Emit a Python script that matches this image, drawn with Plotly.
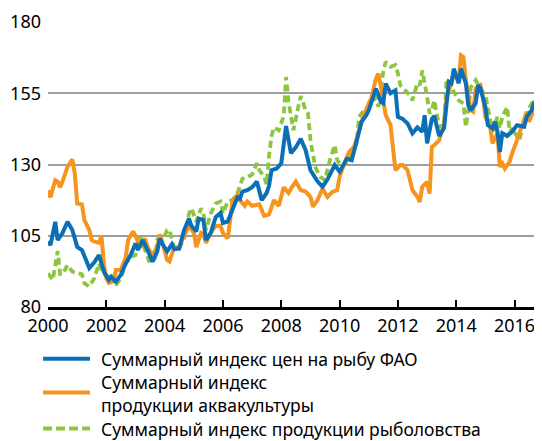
import plotly.graph_objects as go

fao_dates = ["2000-01", "2000-02", "2000-04", "2000-05", "2000-07", "2000-09", "2000-11",
             "2001-01", "2001-03", "2001-04", "2001-06", "2001-08", "2001-10", "2001-12",
             "2002-02", "2002-03", "2002-05", "2002-07", "2002-09", "2002-11",
             "2003-01", "2003-02", "2003-04", "2003-06", "2003-08", "2003-10", "2003-11", "2003-12",
             "2004-02", "2004-04", "2004-05", "2004-07", "2004-09", "2004-11", "2004-12",
             "2005-02", "2005-03", "2005-05", "2005-06", "2005-08", "2005-10", "2005-12",
             "2006-01", "2006-03", "2006-05", "2006-07", "2006-08", "2006-09", "2006-11",
             "2007-01", "2007-03", "2007-05", "2007-07", "2007-08", "2007-09", "2007-11",
             "2008-01", "2008-03", "2008-05", "2008-07", "2008-09", "2008-11",
             "2009-01", "2009-04", "2009-06", "2009-08", "2009-11",
             "2010-01", "2010-04", "2010-06", "2010-08", "2010-10", "2010-12",
             "2011-01", "2011-04", "2011-06", "2011-07", "2011-08", "2011-10", "2011-12",
             "2012-01", "2012-03", "2012-05", "2012-07", "2012-09", "2012-11", "2012-12",
             "2013-01", "2013-03", "2013-04", "2013-06", "2013-08", "2013-10", "2013-11", "2013-12",
             "2014-02", "2014-03", "2014-05", "2014-06", "2014-07", "2014-09", "2014-10", "2014-11",
             "2015-01", "2015-02", "2015-04", "2015-05", "2015-06", "2015-07", "2015-08", "2015-10", "2015-12",
             "2016-02", "2016-05", "2016-06", "2016-08", "2016-09", "2016-12"]
fao_values = [103.0, 101.7, 109.9, 103.5, 106.0, 109.9, 107.0,
              101.1, 100.0, 98.0, 93.7, 95.6, 98.2, 92.4,
              89.5, 90.6, 88.9, 91.3, 95.3, 98.2,
              102.3, 100.0, 103.5, 100.0, 95.9, 99.5, 104.0, 102.3,
              99.5, 102.0, 100.3, 100.5, 107.0, 111.0, 108.5,
              106.5, 111.0, 110.5, 103.5, 106.0, 111.5, 113.0,
              109.5, 110.0, 114.0, 118.5, 118.0, 120.5, 121.0,
              122.0, 124.0, 117.5, 120.0, 122.5, 128.0, 128.5,
              130.4, 143.5, 134.0, 136.0, 139.0, 135.0,
              128.0, 124.0, 122.2, 124.7, 129.8,
              127.5, 132.0, 131.5, 138.0, 145.0, 147.3,
              149.0, 156.6, 152.0, 151.5, 158.4, 155.0, 156.0,
              146.7, 146.0, 144.4, 140.9, 143.0, 141.5, 147.3,
              137.4, 146.0, 147.0, 140.0, 142.8, 159.0, 158.5, 163.6,
              158.5, 163.6, 158.5, 150.8, 149.0, 151.5, 157.8, 156.6,
              150.2, 143.8, 142.7, 145.0, 141.5, 134.4, 141.0, 140.0, 141.5,
              143.8, 143.3, 146.7, 149.0, 151.4, 150.8]

aqua_dates = ["2000-01", "2000-02", "2000-04", "2000-05", "2000-06", "2000-07", "2000-09", "2000-11", "2000-12",
              "2001-01", "2001-03", "2001-04", "2001-06", "2001-07", "2001-08", "2001-10", "2001-11", "2001-12",
              "2002-01", "2002-02", "2002-04", "2002-05", "2002-07", "2002-09", "2002-10", "2002-12",
              "2003-01", "2003-03", "2003-05", "2003-06", "2003-08", "2003-10", "2003-11", "2003-12",
              "2004-02", "2004-03", "2004-05", "2004-07", "2004-09", "2004-11",
              "2005-01", "2005-02", "2005-04", "2005-05", "2005-06", "2005-08", "2005-10", "2005-12",
              "2006-01", "2006-03", "2006-04", "2006-05", "2006-07", "2006-08", "2006-10", "2006-11",
              "2007-01", "2007-04", "2007-06", "2007-08", "2007-10", "2007-12",
              "2008-02", "2008-04", "2008-05", "2008-07", "2008-09", "2008-11",
              "2009-01", "2009-02", "2009-04", "2009-06", "2009-08", "2009-10", "2009-12",
              "2010-01", "2010-03", "2010-05", "2010-07", "2010-09", "2010-11",
              "2011-01", "2011-02", "2011-04", "2011-05", "2011-06", "2011-07", "2011-08", "2011-10", "2011-11", "2011-12",
              "2012-02", "2012-03", "2012-05", "2012-06", "2012-07", "2012-09", "2012-10", "2012-11",
              "2013-01", "2013-02", "2013-03", "2013-04", "2013-06", "2013-08", "2013-09", "2013-11", "2013-12",
              "2014-02", "2014-03", "2014-04", "2014-05", "2014-07", "2014-08", "2014-09", "2014-11", "2014-12",
              "2015-01", "2015-03", "2015-04", "2015-06", "2015-07", "2015-08", "2015-09", "2015-11", "2015-12",
              "2016-02", "2016-04", "2016-06", "2016-07", "2016-09", "2016-10", "2016-12"]
aqua_values = [121.0, 118.5, 124.5, 124.0, 122.0, 124.0, 129.2, 131.8, 127.0,
               116.3, 116.0, 110.5, 107.0, 103.5, 103.0, 102.5, 105.0, 94.7,
               90.0, 88.5, 89.0, 93.0, 93.0, 97.5, 103.5, 106.5,
               105.0, 101.0, 104.0, 101.0, 98.2, 101.0, 105.5, 103.0,
               96.5, 96.0, 101.0, 101.0, 105.0, 108.5,
               106.0, 101.0, 106.0, 105.5, 102.5, 106.0, 108.5, 108.5,
               106.0, 104.0, 110.5, 117.5, 119.3, 117.5, 115.5, 117.0,
               115.5, 116.0, 112.0, 112.5, 117.5, 115.5,
               122.0, 120.0, 121.5, 124.0, 121.0, 120.5,
               118.6, 115.2, 117.6, 121.6, 118.6, 120.4, 121.0,
               125.7, 130.4, 134.4, 136.2, 142.0, 147.3,
               151.4, 153.2, 160.1, 161.9, 157.5, 152.5, 147.3, 143.8, 136.2, 128.0,
               129.8, 129.8, 128.0, 123.9, 121.0, 118.7, 116.9, 122.2,
               123.9, 119.8, 136.2, 136.8, 138.5, 144.3, 153.7, 158.5, 161.3,
               159.6, 168.3, 167.7, 159.6, 149.0, 148.5, 156.6, 157.8, 153.7,
               146.7, 143.2, 137.4, 141.0, 129.2, 130.4, 128.6, 131.0, 133.9,
               138.5, 143.2, 148.5, 145.0, 149.0, 151.4, 152.5]

capture_dates = ["2000-01", "2000-03", "2000-05", "2000-06", "2000-07", "2000-09", "2000-11",
                 "2001-01", "2001-03", "2001-04", "2001-06", "2001-08", "2001-10", "2001-11",
                 "2002-01", "2002-03", "2002-05", "2002-07", "2002-09", "2002-11",
                 "2003-01", "2003-03", "2003-05", "2003-07", "2003-09", "2003-10", "2003-12",
                 "2004-02", "2004-03", "2004-05", "2004-07", "2004-09", "2004-11", "2004-12",
                 "2005-02", "2005-04", "2005-05", "2005-06", "2005-08", "2005-10", "2005-12",
                 "2006-01", "2006-03", "2006-05", "2006-07", "2006-09", "2006-11",
                 "2007-01", "2007-03", "2007-04", "2007-06", "2007-07", "2007-08", "2007-09", "2007-10", "2007-12",
                 "2008-02", "2008-03", "2008-04", "2008-06", "2008-08", "2008-09", "2008-11", "2008-12",
                 "2009-01", "2009-03", "2009-05", "2009-07", "2009-09", "2009-11", "2009-12",
                 "2010-02", "2010-05", "2010-06", "2010-08", "2010-09", "2010-11",
                 "2011-01", "2011-04", "2011-05", "2011-07", "2011-08", "2011-10", "2011-12",
                 "2012-01", "2012-02", "2012-04", "2012-06", "2012-07", "2012-09", "2012-10", "2012-11",
                 "2013-01", "2013-02", "2013-03", "2013-04", "2013-06", "2013-08", "2013-09", "2013-11",
                 "2014-01", "2014-02", "2014-04", "2014-05", "2014-06", "2014-07", "2014-09", "2014-11",
                 "2015-01", "2015-03", "2015-04", "2015-06", "2015-07", "2015-08", "2015-10", "2015-11", "2015-12",
                 "2016-03", "2016-05", "2016-07", "2016-09", "2016-10", "2016-12"]
capture_values = [91.8, 89.5, 99.6, 91.5, 91.5, 94.7, 92.4,
                  91.8, 91.5, 88.3, 87.2, 90.0, 95.3, 93.0,
                  90.7, 91.8, 87.7, 90.0, 95.3, 97.6,
                  98.2, 104.6, 100.0, 95.3, 97.0, 103.5, 103.0,
                  107.0, 107.0, 100.5, 100.5, 104.0, 112.8, 114.6,
                  109.9, 114.6, 112.8, 107.0, 112.8, 116.3, 117.0,
                  112.8, 117.0, 117.6, 119.9, 125.0, 125.5,
                  126.5, 130.4, 128.0, 125.7, 123.0, 133.0, 140.0, 143.0, 142.0,
                  147.0, 160.7, 152.0, 142.0, 150.2, 154.0, 149.0, 147.9,
                  138.5, 129.2, 125.7, 124.5, 131.5, 136.8, 131.5,
                  129.2, 131.5, 134.4, 137.4, 146.7, 149.0,
                  150.2, 153.7, 150.2, 162.5, 166.0, 164.3, 164.9,
                  162.0, 157.8, 156.0, 154.3, 152.5, 158.5, 157.8, 163.0,
                  153.7, 147.9, 149.0, 152.5, 143.2, 143.8, 160.0, 157.0,
                  154.3, 152.5, 151.4, 143.2, 149.0, 157.0, 159.6, 156.6,
                  154.3, 146.1, 141.5, 146.7, 142.7, 146.7, 150.2, 141.0, 142.7,
                  138.5, 145.5, 149.6, 153.0, 150.2, 146.0]

series_names = ["Суммарный индекс цен на рыбу ФАО",
                "Суммарный индекс продукции аквакультуры",
                "Суммарный индекс продукции рыболовства"]
# legend text as printed (second entry wraps onto two lines)
legend_texts = ["Суммарный индекс цен на рыбу ФАО",
                "Суммарный индекс<br>продукции аквакультуры",
                "Суммарный индекс продукции рыболовства"]
year_ticks = [2000, 2002, 2004, 2006, 2008, 2010, 2012, 2014, 2016]
y_ticks = [80, 105, 130, 155, 180]

# ---------------- styling -------------
FONT = "Noto Sans, Open Sans, sans-serif"
BLUE = "#0b6fb8"
ORANGE = "#f7941d"
GREEN = "#8cc63f"
GREEN_DASH = "7px,4px"
GREEN_KEY_DASH = "9px,4px"

fig = go.Figure()
fig.add_trace(go.Scatter(x=capture_dates, y=capture_values, mode="lines", name=series_names[2],
                         line=dict(color=GREEN, width=3.8, dash=GREEN_DASH)))
fig.add_trace(go.Scatter(x=aqua_dates, y=aqua_values, mode="lines", name=series_names[1],
                         line=dict(color=ORANGE, width=4)))
fig.add_trace(go.Scatter(x=fao_dates, y=fao_values, mode="lines", name=series_names[0],
                         line=dict(color=BLUE, width=4)))

# ---- legend below the plot (key lines + text), placed in paper coordinates ----
key_styles = [dict(color=BLUE, width=4), dict(color=ORANGE, width=4),
              dict(color=GREEN, width=4, dash=GREEN_KEY_DASH)]
key_y = [-0.182, -0.300, -0.4267]     # vertical centre of each key line
text_y = [-0.1821, -0.3044, -0.4267]  # vertical centre of each text block
shapes = []
annotations = []
for style, ky, txt, ty in zip(key_styles, key_y, legend_texts, text_y):
    shapes.append(dict(type="line", xref="paper", yref="paper",
                       x0=-0.010, x1=0.085, y0=ky, y1=ky, line=style, layer="above"))
    annotations.append(dict(text=txt, xref="paper", yref="paper", x=0.106, y=ty,
                            xanchor="left", yanchor="middle", align="left",
                            showarrow=False, borderpad=0,
                            font=dict(family=FONT, size=17.5, color="black")))

# the page body adds an 8px offset, so the figure is 8px smaller with margins compensated
fig.update_layout(
    width=534, height=433,
    margin=dict(l=40, r=0, t=14, b=134, autoexpand=False),
    paper_bgcolor="white", plot_bgcolor="white",
    font=dict(family=FONT, size=18, color="black"),
    showlegend=False,
    shapes=shapes,
    annotations=annotations,
)
fig.update_xaxes(
    type="date",
    range=["2000-01-01", "2016-12-10"],
    tickvals=[f"{y}-01-01" for y in year_ticks],
    ticktext=[str(y) for y in year_ticks],
    showgrid=False, zeroline=False,
    showline=True, linecolor="black", linewidth=3,
    ticks="inside", ticklen=7, tickwidth=2, tickcolor="black",
    tickfont=dict(size=18),
)
fig.update_yaxes(
    range=[80, 180],
    tickvals=y_ticks,
    showgrid=True, gridcolor="#9d9d9d", gridwidth=1.5,
    zeroline=False, showline=False, ticks="",
    ticklabelstandoff=6,
    tickfont=dict(size=18),
)

fig.write_html("out.html")
